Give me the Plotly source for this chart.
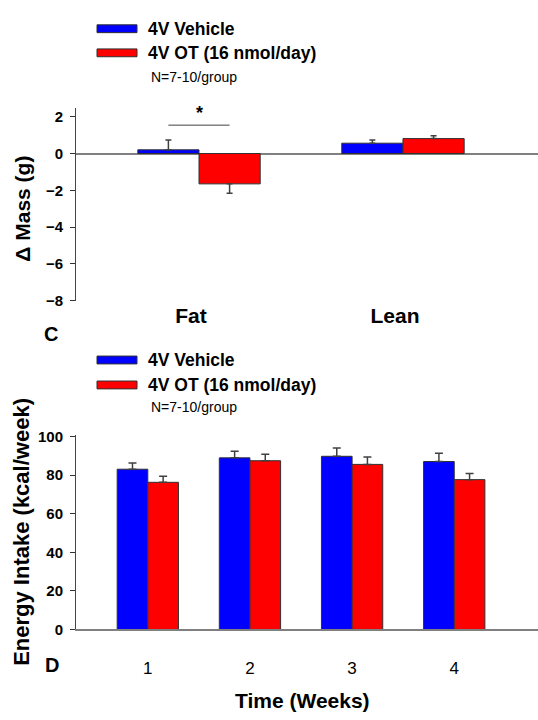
import plotly.graph_objects as go

W, H = 538, 720

series_names = ["4V Vehicle", "4V OT (16 nmol/day)"]
series_colors = ["#0000ff", "#ff0000"]
n_note = "N=7-10/group"

# Panel C: change in body composition
comp_categories = ["Fat", "Lean"]
comp_vehicle = [0.20, 0.56]
comp_vehicle_err = [0.54, 0.18]
comp_ot = [-1.65, 0.81]
comp_ot_err = [0.51, 0.15]
comp_yticks = [-8, -6, -4, -2, 0, 2]
comp_ytitle = "Δ Mass (g)"
sig_category = "Fat"
sig_y = 1.54
sig_label = "*"

# Panel D: weekly energy intake
weeks = ["1", "2", "3", "4"]
intake_vehicle = [83.1, 89.0, 89.8, 87.1]
intake_vehicle_err = [3.2, 3.4, 4.3, 4.3]
intake_ot = [76.3, 87.5, 85.6, 77.7]
intake_ot_err = [3.2, 3.4, 3.9, 3.2]
intake_yticks = [0, 20, 40, 60, 80, 100]
intake_ytitle = "Energy Intake (kcal/week)"
intake_xtitle = "Time (Weeks)"
panel_letters = ["C", "D"]

FONT = "Liberation Sans, Arial, sans-serif"
BARGAP = 0.4
ERR_COLOR = "#404040"
OUTLINE = "#303030"


def px(x):
    return x / W


def py(y):
    return 1 - y / H


def one_sided(vals, errs):
    plus = [e if v >= 0 else 0 for v, e in zip(vals, errs)]
    minus = [e if v < 0 else 0 for v, e in zip(vals, errs)]
    return plus, minus


fig = go.Figure()

panels = [
    ("x", "y", comp_categories, [comp_vehicle, comp_ot], [comp_vehicle_err, comp_ot_err], 3),
    ("x2", "y2", weeks, [intake_vehicle, intake_ot], [intake_vehicle_err, intake_ot_err], 4),
]
for xa, ya, cats, vals_list, errs_list, capw in panels:
    for name, color, vals, errs in zip(series_names, series_colors, vals_list, errs_list):
        plus, minus = one_sided(vals, errs)
        fig.add_trace(go.Bar(
            x=cats, y=vals, name=name, xaxis=xa, yaxis=ya,
            marker=dict(color=color, line=dict(color=OUTLINE, width=1)),
            error_y=dict(type="data", symmetric=False, array=plus, arrayminus=minus,
                         color=ERR_COLOR, thickness=1.5, width=capw),
            showlegend=False,
        ))

# significance bracket between the two bars of the marked category
n_series = len(series_names)
bar_w = (1 - BARGAP) / n_series
sig_idx = comp_categories.index(sig_category)
x_left = sig_idx - bar_w / 2
x_right = sig_idx + bar_w / 2
shapes = [dict(type="line", xref="x", yref="y", x0=x_left, x1=x_right,
               y0=sig_y, y1=sig_y, line=dict(color=ERR_COLOR, width=1))]
annotations = [dict(xref="x", yref="y", x=sig_idx, y=sig_y, text=sig_label,
                    showarrow=False, yanchor="bottom", xanchor="center",
                    font=dict(family=FONT, size=18, color="black", weight="bold"))]

# manual legends (wide swatches), one per panel
legend_rows = [(22.2, 46.8, 72), (360.5, 386, 409)]
for rows in legend_rows:
    for i, (name, color) in enumerate(zip(series_names, series_colors)):
        cy = rows[i]
        shapes.append(dict(type="rect", xref="paper", yref="paper",
                           x0=px(97), x1=px(137), y0=py(cy + 4), y1=py(cy - 4),
                           fillcolor=color, line=dict(color=OUTLINE, width=1)))
        annotations.append(dict(xref="paper", yref="paper", x=px(146), y=py(cy),
                                text=name, showarrow=False, xanchor="left", yanchor="middle",
                                font=dict(family=FONT, size=17.5, color="black", weight="bold")))
    annotations.append(dict(xref="paper", yref="paper", x=px(149), y=py(rows[2]),
                            text=n_note, showarrow=False, xanchor="left", yanchor="middle",
                            font=dict(family=FONT, size=14, color="black")))

# axis titles and panel letters
annotations += [
    dict(xref="paper", yref="paper", x=px(23), y=py(206), text=comp_ytitle, textangle=-90,
         showarrow=False, xanchor="center", yanchor="middle",
         font=dict(family=FONT, size=21, color="black", weight="bold")),
    dict(xref="paper", yref="paper", x=px(22), y=py(536), text=intake_ytitle, textangle=-90,
         showarrow=False, xanchor="center", yanchor="middle",
         font=dict(family=FONT, size=22, color="black", weight="bold")),
    dict(xref="paper", yref="paper", x=px(302), y=py(708), text=intake_xtitle,
         showarrow=False, xanchor="center", yanchor="middle",
         font=dict(family=FONT, size=21, color="black", weight="bold")),
    dict(xref="paper", yref="paper", x=px(51), y=py(334), text=panel_letters[0],
         showarrow=False, xanchor="center", yanchor="middle",
         font=dict(family=FONT, size=20, color="black", weight="bold")),
    dict(xref="paper", yref="paper", x=px(52), y=py(672.5), text=panel_letters[1],
         showarrow=False, xanchor="center", yanchor="middle",
         font=dict(family=FONT, size=20, color="black", weight="bold")),
]

ytick_font = dict(family=FONT, size=15, color="black", weight="bold")

fig.update_layout(
    width=W, height=H, margin=dict(l=0, r=0, t=0, b=0),
    paper_bgcolor="white", plot_bgcolor="white",
    barmode="group", bargap=BARGAP, bargroupgap=0,
    font=dict(family=FONT, color="black"),
    showlegend=False,
    shapes=shapes, annotations=annotations,
    xaxis=dict(domain=[px(76), 1], anchor="y", range=[-0.603, 1.662],
               showline=False, showgrid=False, zeroline=False, ticks="",
               tickfont=dict(family=FONT, size=21, color="black", weight="bold"),
               ticklabelstandoff=0, ticklabelshift=-8),
    yaxis=dict(domain=[py(300), py(103)], anchor="x", range=[-8, 2.48],
               tickvals=comp_yticks, ticks="outside", ticklen=5, tickcolor="#333",
               showline=True, linecolor="#444", linewidth=1, showgrid=False,
               zeroline=True, zerolinecolor="#808080", zerolinewidth=1.5,
               tickfont=ytick_font, ticklabelstandoff=4),
    xaxis2=dict(domain=[px(76), 1], anchor="y2", range=[-0.703, 3.82],
                showline=True, linecolor="#808080", linewidth=1.5, showgrid=False,
                zeroline=False, ticks="",
                tickfont=dict(family=FONT, size=17, color="black"),
                ticklabelstandoff=22),
    yaxis2=dict(domain=[py(635.7), py(437)], anchor="x2", range=[0, 100.9],
                tickvals=intake_yticks, ticks="outside", ticklen=5, tickcolor="#333",
                showline=True, linecolor="#444", linewidth=1, showgrid=False,
                zeroline=False, tickfont=ytick_font, ticklabelstandoff=4),
)

fig.write_html("out.html", config={"displayModeBar": False},
               post_script="document.body.style.margin='0';document.body.style.overflow='hidden';")
